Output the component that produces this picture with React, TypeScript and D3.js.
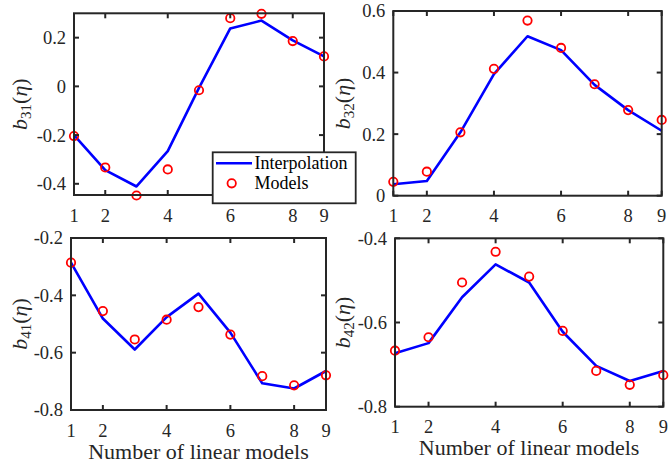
import React from "react";
import * as d3 from "d3";

const models = [1, 2, 3, 4, 5, 6, 7, 8, 9];
const xTicks = [1, 2, 4, 6, 8, 9];

const b31Interp = [-0.2, -0.344, -0.411, -0.266, -0.006, 0.238, 0.27, 0.189, 0.123];
const b31Models = [-0.204, -0.333, -0.448, -0.341, -0.016, 0.28, 0.298, 0.186, 0.123];
const b32Interp = [0.037, 0.048, 0.206, 0.395, 0.518, 0.473, 0.36, 0.278, 0.211];
const b32Models = [0.045, 0.078, 0.206, 0.412, 0.569, 0.48, 0.362, 0.278, 0.246];
const b41Interp = [-0.286, -0.481, -0.589, -0.476, -0.394, -0.53, -0.707, -0.725, -0.664];
const b41Models = [-0.286, -0.455, -0.554, -0.485, -0.441, -0.537, -0.682, -0.714, -0.679];
const b42Interp = [-0.673, -0.649, -0.54, -0.462, -0.505, -0.622, -0.703, -0.739, -0.715];
const b42Models = [-0.667, -0.635, -0.505, -0.432, -0.491, -0.62, -0.715, -0.748, -0.725];

const yTicks31 = [-0.4, -0.2, 0, 0.2];
const yTicks32 = [0, 0.2, 0.4, 0.6];
const yTicks41 = [-0.8, -0.6, -0.4, -0.2];
const yTicks42 = [-0.8, -0.6, -0.4];

const FONT = "'Liberation Serif', 'Times New Roman', serif";
const AX = "#262626";

type PanelProps = {
  x0: number; x1: number; y0: number; y1: number;
  yDomain: [number, number];
  yTicks: number[];
  interp: number[];
  pts: number[];
  sub: string;
  labelX: number;
  showXLabel: boolean;
};

function fmt(v: number) {
  if (Math.abs(v) < 1e-9) return "0";
  return v.toFixed(1);
}

function Panel(p: PanelProps) {
  const x = d3.scaleLinear().domain([1, 9]).range([p.x0, p.x1]);
  const y = d3.scaleLinear().domain(p.yDomain).range([p.y1, p.y0]);
  const line = d3.line<number>().x((_, i) => x(models[i])).y((d) => y(d));
  const tl = 5;
  const cy = (p.y0 + p.y1) / 2;
  const cx = (p.x0 + p.x1) / 2;
  return (
    <g>
      <path d={line(p.interp) || ""} fill="none" stroke="#0000FF" strokeWidth={2.6} strokeLinejoin="round" />
      {p.pts.map((v, i) => (
        <circle key={i} cx={x(models[i])} cy={y(v)} r={4.2} fill="none" stroke="#FF0000" strokeWidth={1.8} />
      ))}
      <rect x={p.x0} y={p.y0} width={p.x1 - p.x0} height={p.y1 - p.y0} fill="none" stroke={AX} strokeWidth={2} />
      {xTicks.map((t) => (
        <g key={"x" + t}>
          <line x1={x(t)} x2={x(t)} y1={p.y1} y2={p.y1 - tl} stroke={AX} strokeWidth={2} />
          <line x1={x(t)} x2={x(t)} y1={p.y0} y2={p.y0 + tl} stroke={AX} strokeWidth={2} />
          <text x={x(t)} y={p.y1 + 26.5} textAnchor="middle" fontFamily={FONT} fontSize={18.5} fill={AX}>{t}</text>
        </g>
      ))}
      {p.yTicks.map((t) => (
        <g key={"y" + t}>
          <line x1={p.x0} x2={p.x0 + tl} y1={y(t)} y2={y(t)} stroke={AX} strokeWidth={2} />
          <line x1={p.x1} x2={p.x1 - tl} y1={y(t)} y2={y(t)} stroke={AX} strokeWidth={2} />
          <text x={p.x0 - 8} y={y(t)} dy="0.35em" textAnchor="end" fontFamily={FONT} fontSize={18.5} fill={AX}>{fmt(t)}</text>
        </g>
      ))}
      <text transform={`translate(${p.labelX},${cy}) rotate(-90)`} textAnchor="middle" dy="0.3em" fontFamily={FONT} fontSize={22} fill={AX}>
        <tspan fontStyle="italic">b</tspan>
        <tspan fontSize={15} dy={4}>{p.sub}</tspan>
        <tspan dy={-4}>(</tspan>
        <tspan fontStyle="italic">η</tspan>
        <tspan>)</tspan>
      </text>
      {p.showXLabel && (
        <text x={cx} y={p.y1 + 48.5} textAnchor="middle" fontFamily={FONT} fontSize={22} fill={AX}>Number of linear models</text>
      )}
    </g>
  );
}

export default function App() {
  return (
    <svg width={669} height={463} style={{ position: "absolute", left: 0, top: 0, background: "#fff" }}>
      <rect x={0} y={0} width={669} height={463} fill="#fff" />
      <Panel x0={74} x1={324} y0={13.3} y1={195} yDomain={[-0.446, 0.3]} yTicks={yTicks31} interp={b31Interp} pts={b31Models} sub="31" labelX={20} showXLabel={false} />
      <Panel x0={393.3} x1={661.7} y0={11} y1={195.7} yDomain={[0, 0.6]} yTicks={yTicks32} interp={b32Interp} pts={b32Models} sub="32" labelX={343} showXLabel={false} />
      <Panel x0={71} x1={326} y0={238} y1={410} yDomain={[-0.8, -0.2]} yTicks={yTicks41} interp={b41Interp} pts={b41Models} sub="41" labelX={20} showXLabel={true} />
      <Panel x0={395} x1={663.3} y0={238.3} y1={406.7} yDomain={[-0.8, -0.4]} yTicks={yTicks42} interp={b42Interp} pts={b42Models} sub="42" labelX={343} showXLabel={true} />
      <g>
        <rect x={212.7} y={152.3} width={143} height={51} fill="#fff" stroke={AX} strokeWidth={1.8} />
        <line x1={216} x2={252} y1={163.3} y2={163.3} stroke="#0000FF" strokeWidth={2.6} />
        <circle cx={231.7} cy={183.3} r={4.2} fill="none" stroke="#FF0000" strokeWidth={1.8} />
        <text x={254.5} y={163.3} dy="0.33em" fontFamily={FONT} fontSize={18} fill="#000">Interpolation</text>
        <text x={254.5} y={183.3} dy="0.33em" fontFamily={FONT} fontSize={18} fill="#000">Models</text>
      </g>
    </svg>
  );
}
